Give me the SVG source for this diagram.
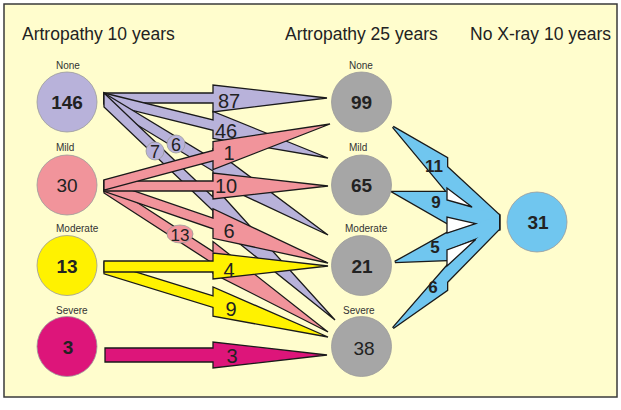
<svg xmlns="http://www.w3.org/2000/svg" width="621" height="410" viewBox="0 0 621 410">
<style>
text{font-family:"Liberation Sans",Arial,sans-serif;fill:#222}
.title{font-size:17.5px}
.nl{font-size:10px;fill:#333}
.num{font-size:19px;text-anchor:middle}
.b{font-weight:bold}
.al{font-size:20px;text-anchor:middle}
.sl{font-size:18px;text-anchor:middle}
.bl{font-size:17px;font-weight:bold;text-anchor:middle}
.node{stroke:#9a9a9a;stroke-width:0.8}
.arr{stroke:#1a1a1a;stroke-width:1.3;stroke-linejoin:miter}
.lav{fill:#B8B2DA}.pink{fill:#F1949B}.yel{fill:#FFF200}.mag{fill:#DD157A}.gray{fill:#A6A6A6}.blue{fill:#70C6EF}
</style>
<rect x="0" y="0" width="621" height="410" fill="#ffffff"/>
<rect x="4" y="4" width="613" height="393" fill="#FFFDCD" stroke="#3a3a3a" stroke-width="1.5"/>
<text class="title" x="22" y="40">Artropathy 10 years</text>
<text class="title" x="285" y="40">Artropathy 25 years</text>
<text class="title" x="470" y="40">No X-ray 10 years</text>

<g id="connectors">
  <g id="from-none">
    <polygon class="arr lav" points="104,93 213,93 213,85 327,98 213,112 213,103 104,103"/>
    <polygon class="arr lav" points="104,93 213,120 213,111.5 328,158 213,138.5 213,130.3 104,103.3"/>
    <polygon class="arr lav" points="104,93 213,159 213,149 328,235 213,181 213,171 104,104.7"/>
    <polygon class="arr lav" points="104,93 213,196.9 213,185.2 335,320 213,222.4 213,210.7 104,107"/>
    <circle class="node lav" cx="155" cy="151" r="9"/>
    <circle class="node lav" cx="176" cy="144" r="9"/>
    <text class="sl" x="155" y="158">7</text>
    <text class="sl" x="176" y="151">6</text>
  </g>
  <g id="from-mild">
    <polygon class="arr pink" points="104,181 213,251.5 213,241.5 328,332 213,273.5 213,263.5 104,193"/>
    <polygon class="arr pink" points="104,180.7 213,218.2 213,208.7 328,263 213,238.3 213,228.8 104,191.3"/>
    <polygon class="arr pink" points="104,181 213,181 213,173 328,186 213,199 213,191 104,191"/>
    <polygon class="arr pink" points="104,179.8 213,150.4 213,141.6 330,124 213,169.6 213,160.8 104,190.2"/>
    <ellipse class="node pink" cx="180" cy="234" rx="13" ry="9"/>
    <text class="sl" x="180" y="240.5" style="font-size:17px">13</text>
  </g>
  <g id="from-moderate">
    <polygon class="arr yel" points="104,262.2 213,295.8 213,287 328,337 213,316.2 213,307.4 104,273.8"/>
    <polygon class="arr yel" points="104,261 213,261 213,253 328,266 213,279 213,272 104,272"/>
  </g>
  <g id="from-severe">
    <polygon class="arr mag" points="105,348 213,348 213,342 327,355 213,368 213,362 105,362"/>
  </g>
  <g id="arrow-labels">
    <text class="al" x="229" y="108">87</text>
    <text class="al" x="226" y="137.5">46</text>
    <text class="al" x="229" y="160">1</text>
    <text class="al" x="226" y="193">10</text>
    <text class="al" x="229" y="238">6</text>
    <text class="al" x="229" y="277">4</text>
    <text class="al" x="231" y="316">9</text>
    <text class="al" x="232" y="363">3</text>
  </g>
  <g id="to-xray">
    <g stroke="#1a1a1a" stroke-width="2.6" stroke-linejoin="miter" class="blue">
      <polygon points="393,127 447,158 447,167 499,215 499,228 447,188 447,192"/>
      <polygon points="393,192 447,192 447,200 499,215 499,229 447,217 447,223"/>
      <polygon points="395,262 447,233 499,216 499,229 447,250 447,260"/>
      <polygon points="393,328 447,266 499,218 499,229 447,282 447,290"/>
    </g>
    <g class="blue">
      <polygon points="393,127 447,158 447,167 499,215 499,228 447,188 447,192"/>
      <polygon points="393,192 447,192 447,200 499,215 499,229 447,217 447,223"/>
      <polygon points="395,262 447,233 499,216 499,229 447,250 447,260"/>
      <polygon points="393,328 447,266 499,218 499,229 447,282 447,290"/>
    </g>
    <g fill="#ffffff" stroke="#1a1a1a" stroke-width="1.3">
      <polygon points="447,188 447,200 472,207"/>
      <polygon points="447,217 447,233 475.7,223.6"/>
      <polygon points="447,250 447,266 475.7,239.5"/>
    </g>
    <text class="bl" x="434" y="172">11</text>
    <text class="bl" x="436" y="208">9</text>
    <text class="bl" x="435" y="253">5</text>
    <text class="bl" x="433" y="293">6</text>
  </g>
</g>

<g id="a10-none"><text class="nl" x="56" y="69">None</text><circle class="node lav" cx="67" cy="102" r="30"/><text class="num b" x="67" y="109">146</text></g>
<g id="a10-mild"><text class="nl" x="56" y="151">Mild</text><circle class="node pink" cx="67" cy="185" r="30"/><text class="num" x="67" y="192">30</text></g>
<g id="a10-moderate"><text class="nl" x="56" y="232">Moderate</text><circle class="node yel" cx="67" cy="265.5" r="30"/><text class="num b" x="67" y="272.5">13</text></g>
<g id="a10-severe"><text class="nl" x="56" y="313.5">Severe</text><circle class="node mag" cx="67" cy="346.5" r="30"/><text class="num b" x="68" y="353.5">3</text></g>

<g id="a25-none"><text class="nl" x="349" y="69">None</text><circle class="node gray" cx="361.5" cy="102" r="30"/><text class="num b" x="361.5" y="109">99</text></g>
<g id="a25-mild"><text class="nl" x="349" y="151">Mild</text><circle class="node gray" cx="361.5" cy="185" r="30"/><text class="num b" x="361.5" y="192">65</text></g>
<g id="a25-moderate"><text class="nl" x="345" y="232">Moderate</text><circle class="node gray" cx="361.5" cy="265.5" r="30"/><text class="num b" x="362" y="272.5">21</text></g>
<g id="a25-severe"><text class="nl" x="343" y="313.5">Severe</text><circle class="node gray" cx="361.5" cy="346.5" r="30"/><text class="num" x="364" y="354.5">38</text></g>

<g id="xray"><circle class="node blue" cx="537" cy="222" r="30"/><text class="num b" x="538" y="229">31</text></g>
</svg>
